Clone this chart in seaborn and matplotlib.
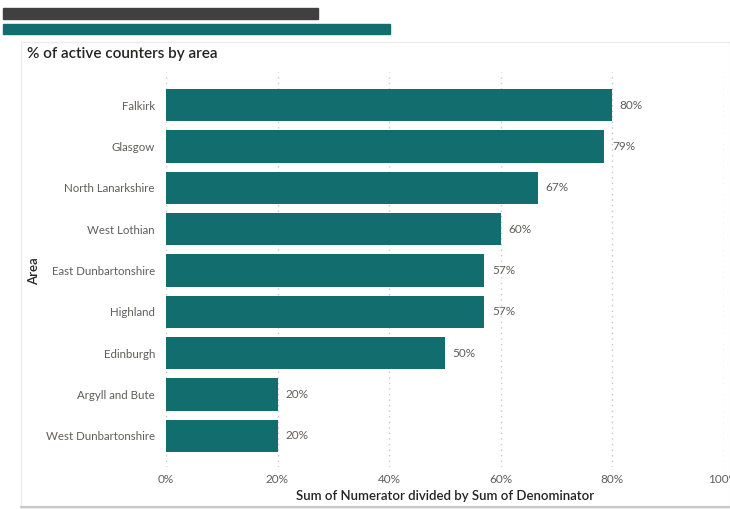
import matplotlib
matplotlib.use("Agg")
import matplotlib.pyplot as plt
import seaborn as sns
import pandas as pd
from matplotlib.patches import Rectangle

areas = ["Falkirk", "Glasgow", "North Lanarkshire", "West Lothian", "East Dunbartonshire",
         "Highland", "Edinburgh", "Argyll and Bute", "West Dunbartonshire"]
values = [0.80, 0.786, 0.667, 0.60, 0.571, 0.571, 0.50, 0.20, 0.20]
value_labels = ["80%", "79%", "67%", "60%", "57%", "57%", "50%", "20%", "20%"]
x_ticks = [0, 0.2, 0.4, 0.6, 0.8, 1.0]
x_ticklabels = ["0%", "20%", "40%", "60%", "80%", "100%"]

df = pd.DataFrame({"Area": areas, "Value": values})

sns.set_theme(style="white")
plt.rcParams['font.family'] = ['Lato', 'DejaVu Sans']

W, H = 730, 509
fig = plt.figure(figsize=(W / 100, H / 100), dpi=100)
fig.patch.set_facecolor("white")

def fx(px): return px / W
def fy(py): return 1 - py / H

# decorative bars at top
fig.patches.append(Rectangle((fx(3), fy(19)), fx(318) - fx(3), fy(8) - fy(19),
                             transform=fig.transFigure, color="#404040", zorder=-2))
fig.patches.append(Rectangle((fx(3), fy(34)), fx(390) - fx(3), fy(24) - fy(34),
                             transform=fig.transFigure, color="#126E6E", zorder=-2))
# card border
fig.patches.append(Rectangle((fx(21), fy(508)), 1 - fx(21), fy(42) - fy(508),
                             transform=fig.transFigure, facecolor="white",
                             edgecolor="#EBEBEB", lw=1, zorder=-2))
fig.lines.append(plt.Line2D([fx(21), 1], [fy(507), fy(507)], transform=fig.transFigure,
                            color="#C8C8C8", lw=1.5, zorder=-1))

ax = fig.add_axes([fx(166), fy(467), fx(723.5) - fx(166), fy(72) - fy(467)])
ax.set_facecolor("none")
sns.barplot(data=df, y="Area", x="Value", color="#126E6E", saturation=1, width=0.78,
            linewidth=0, ax=ax, zorder=3)

ax.set_xlim(0, 1.0)
ax.set_ylim(8.75, -0.8)
ax.set_xticks(x_ticks)
ax.set_xticklabels(x_ticklabels, color="#605E5C", fontsize=8.5)
ax.tick_params(axis="x", length=0, pad=5)
ax.tick_params(axis="y", length=0, pad=8, labelsize=8.3, labelcolor="#605E5C")
ax.xaxis.grid(True, linestyle=(0, (1, 3)), color="#C8C8C8", lw=1)
ax.yaxis.grid(False)
ax.set_axisbelow(True)
for s in ax.spines.values():
    s.set_visible(False)

for i, (v, t) in enumerate(zip(values, value_labels)):
    ax.text(v + 0.014, i, t, va="center", ha="left", fontsize=8.5, color="#605E5C")

ax.set_xlabel("Sum of Numerator divided by Sum of Denominator", fontsize=9.5,
              color="#252423", labelpad=4, fontweight="semibold")
ax.set_ylabel("")
fig.text(fx(34), fy(271), "Area", rotation=90, ha="center", va="center",
         fontsize=9.5, color="#252423", fontweight="semibold")
fig.text(fx(27), fy(54), "% of active counters by area", ha="left", va="center",
         fontsize=11, color="#252423", fontweight="semibold")

fig.savefig("out.png", dpi=100)
